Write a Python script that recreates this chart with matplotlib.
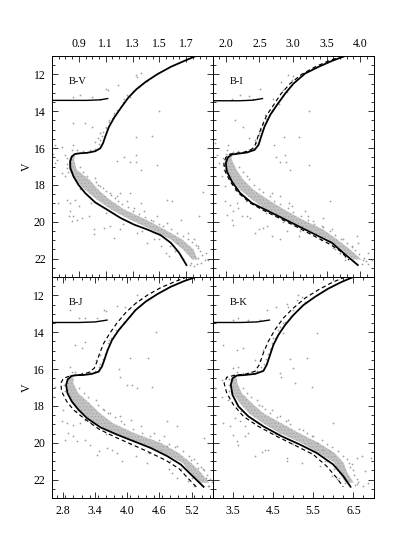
"""Colour-magnitude diagrams in four colours with two isochrones each."""
import numpy as np
import matplotlib.pyplot as plt
from matplotlib.ticker import FixedLocator, MultipleLocator

plt.rcParams['font.family'] = ['Liberation Serif', 'DejaVu Serif']
plt.rcParams['font.size'] = 8.5
plt.rcParams['hatch.linewidth'] = 0.5

# Isochrone, B-V
bv_color = [1.772, 1.685, 1.585, 1.485, 1.397, 1.33, 1.27, 1.215, 1.165, 1.125,
            1.097, 1.08, 1.06, 1.022, 0.96, 0.91, 0.872, 0.847, 0.835, 0.837,
            0.86, 0.897, 0.947, 1.022, 1.11, 1.21, 1.31, 1.41, 1.51, 1.585,
            1.647, 1.702]
bv_mag = [11.0, 11.27, 11.59, 11.99, 12.41, 12.8, 13.25, 13.8, 14.33, 14.84,
          15.38, 15.74, 16.01, 16.17, 16.26, 16.28, 16.32, 16.46, 16.73, 17.09,
          17.54, 17.99, 18.44, 18.95, 19.34, 19.79, 20.15, 20.42, 20.73, 21.14,
          21.68, 22.35]
bv_hb_color = [0.7, 0.96, 1.06, 1.115]
bv_hb_mag = [13.41, 13.41, 13.38, 13.31]

# Isochrones, B-I
bi_color = [3.777, 3.578, 3.38, 3.18, 3.007, 2.883, 2.759, 2.66, 2.575, 2.525,
            2.486, 2.426, 2.312, 2.187, 2.088, 2.029, 1.999, 2.014, 2.088, 2.212,
            2.386, 2.585, 2.784, 3.03, 3.28, 3.578, 3.777, 3.966]
bi_mag = [11.0, 11.27, 11.59, 11.95, 12.5, 13.04, 13.67, 14.2, 14.84, 15.38,
          15.83, 16.1, 16.24, 16.3, 16.35, 16.51, 16.82, 17.27, 17.81, 18.44,
          18.98, 19.34, 19.7, 20.15, 20.6, 21.14, 21.77, 22.35]
bi_dash_color = [3.737, 3.529, 3.33, 3.131, 2.957, 2.823, 2.709, 2.61, 2.535, 2.476,
                 2.436, 2.386, 2.287, 2.163, 2.063, 1.999, 1.969, 1.989, 2.063, 2.187,
                 2.361, 2.56, 2.759, 3.007, 3.255, 3.553, 3.703, 3.837]
bi_dash_mag = [11.0, 11.27, 11.59, 11.99, 12.5, 13.04, 13.67, 14.2, 14.84, 15.38,
               15.83, 16.06, 16.21, 16.28, 16.32, 16.5, 16.82, 17.27, 17.81, 18.44,
               18.98, 19.38, 19.74, 20.19, 20.66, 21.23, 21.59, 22.08]
bi_hb_color = [1.8, 2.2, 2.4, 2.545]
bi_hb_mag = [13.43, 13.43, 13.4, 13.31]

# Isochrones, B-J
bj_color = [5.281, 5.063, 4.813, 4.563, 4.344, 4.156, 4.0, 3.844, 3.719, 3.638,
            3.575, 3.531, 3.469, 3.344, 3.188, 3.063, 2.969, 2.894, 2.863, 2.888,
            2.969, 3.094, 3.25, 3.5, 3.813, 4.125, 4.438, 4.75, 5.0, 5.219, 5.425]
bj_mag = [11.0, 11.22, 11.53, 11.93, 12.34, 12.8, 13.34, 13.88, 14.42, 14.96,
          15.5, 15.86, 16.14, 16.26, 16.32, 16.33, 16.37, 16.55, 16.86, 17.31,
          17.76, 18.21, 18.66, 19.16, 19.56, 19.92, 20.28, 20.73, 21.18, 21.81, 22.39]
bj_dash_color = [5.113, 4.875, 4.625, 4.375, 4.156, 3.969, 3.813, 3.675, 3.563, 3.488,
                 3.438, 3.388, 3.281, 3.125, 2.938, 2.813, 2.763, 2.781, 2.875, 3.0,
                 3.188, 3.469, 3.781, 4.094, 4.406, 4.719, 4.969, 5.125, 5.294]
bj_dash_mag = [11.0, 11.27, 11.58, 11.99, 12.44, 12.95, 13.49, 14.06, 14.6, 15.14,
               15.59, 15.95, 16.19, 16.3, 16.37, 16.5, 16.77, 17.22, 17.76, 18.21,
               18.66, 19.25, 19.7, 20.1, 20.51, 20.95, 21.41, 21.9, 22.41]
bj_hb_color = [2.6, 3.1, 3.4, 3.625]
bj_hb_mag = [13.47, 13.47, 13.44, 13.34]

# Isochrones, B-K
bk_color = [6.496, 6.207, 5.876, 5.545, 5.256, 5.008, 4.802, 4.636, 4.512, 4.43,
            4.347, 4.264, 4.058, 3.81, 3.603, 3.496, 3.455, 3.496, 3.645, 3.893,
            4.264, 4.719, 5.174, 5.587, 6.0, 6.248, 6.43]
bk_mag = [11.0, 11.27, 11.63, 12.08, 12.53, 13.07, 13.61, 14.15, 14.69, 15.23,
          15.77, 16.1, 16.26, 16.32, 16.35, 16.5, 16.86, 17.4, 18.03, 18.57,
          19.11, 19.65, 20.1, 20.55, 21.18, 21.81, 22.39]
bk_dash_color = [6.289, 5.959, 5.628, 5.298, 5.008, 4.76, 4.554, 4.388, 4.264, 4.165,
                 4.058, 3.81, 3.562, 3.355, 3.289, 3.355, 3.521, 3.769, 4.14, 4.595,
                 5.05, 5.504, 5.835, 6.083, 6.248]
bk_dash_mag = [11.0, 11.31, 11.7, 12.15, 12.69, 13.23, 13.86, 14.49, 15.12, 15.75,
               16.12, 16.28, 16.33, 16.44, 16.77, 17.31, 17.94, 18.57, 19.11, 19.65,
               20.14, 20.64, 21.27, 21.9, 22.39]
bk_hb_color = [3.0, 3.7, 4.1, 4.413]
bk_hb_mag = [13.47, 13.47, 13.44, 13.34]

# Dense main sequence, edges read per magnitude
bv_band_mag = [16.4, 16.64, 17.18, 17.72, 18.26, 18.8, 19.34, 19.88, 20.42, 20.96, 21.5, 22.05]
bv_band_lo = [0.85, 0.828, 0.828, 0.873, 0.945, 1.035, 1.14, 1.28, 1.44, 1.585, 1.675, 1.745]
bv_band_hi = [0.87, 0.865, 0.885, 0.98, 1.045, 1.13, 1.24, 1.4, 1.54, 1.67, 1.755, 1.785]
bi_band_mag = [16.4, 16.64, 17.18, 17.72, 18.26, 18.8, 19.34, 19.88, 20.42, 20.96, 21.5, 22.05]
bi_band_lo = [2.02, 1.975, 1.995, 2.08, 2.21, 2.39, 2.6, 2.87, 3.21, 3.52, 3.72, 3.9]
bi_band_hi = [2.08, 2.09, 2.16, 2.26, 2.41, 2.63, 2.87, 3.14, 3.45, 3.66, 3.85, 4.02]
bj_band_mag = [16.45, 16.77, 17.31, 17.85, 18.39, 18.93, 19.47, 20.01, 20.55, 21.09, 21.63, 22.17]
bj_band_lo = [2.92, 2.87, 2.9, 2.99, 3.16, 3.39, 3.77, 4.24, 4.67, 5.03, 5.18, 5.34]
bj_band_hi = [3.0, 3.0, 3.09, 3.3, 3.49, 3.73, 4.13, 4.63, 4.96, 5.19, 5.38, 5.53]
bk_band_mag = [16.45, 16.77, 17.31, 17.85, 18.39, 18.93, 19.47, 20.01, 20.55, 21.09, 21.63, 22.17]
bk_band_lo = [3.5, 3.465, 3.5, 3.68, 3.9, 4.24, 4.66, 5.2, 5.64, 6.03, 6.15, 6.31]
bk_band_hi = [3.6, 3.62, 3.73, 3.98, 4.26, 4.7, 5.15, 5.64, 6.03, 6.26, 6.35, 6.51]

# Field stars, (colour, V)
bv_stars = [(1.365, 11.95), (1.323, 12.01), (1.335, 12.14), (1.41, 12.37), (1.373, 12.5),
            (1.348, 12.68), (1.193, 12.59), (1.26, 13.13), (1.235, 13.36), (1.10, 12.77),
            (1.115, 12.82), (0.91, 13.13), (0.86, 13.22), (0.998, 13.22), (1.06, 13.31),
            (1.5, 13.99), (1.16, 14.12), (1.185, 13.94), (1.148, 14.39), (1.123, 14.48),
            (1.105, 14.84), (1.06, 15.2), (1.04, 15.47), (1.023, 15.65), (0.998, 14.84),
            (0.948, 14.66), (0.86, 14.62), (1.323, 15.41), (1.448, 15.34), (1.485, 16.91),
            (1.323, 16.37), (1.24, 16.51), (1.185, 16.69), (1.278, 16.77), (1.323, 16.78),
            (1.36, 17.18), (0.86, 15.83), (0.848, 16.1), (0.773, 15.92), (0.723, 15.83),
            (0.71, 16.32), (0.735, 16.64), (0.773, 17.36), (0.798, 17.54), (0.723, 16.82),
            (0.748, 18.98), (0.81, 18.84), (0.835, 18.98), (0.873, 18.8), (0.898, 19.16),
            (0.835, 19.43), (0.86, 19.7), (0.848, 19.97), (0.885, 19.88), (0.923, 19.79),
            (0.823, 19.7), (0.973, 19.7), (1.01, 20.42), (1.015, 20.64), (1.085, 20.33),
            (1.13, 20.24), (1.21, 20.42), (1.16, 20.87), (1.335, 20.6), (1.56, 18.8),
            (1.598, 18.89), (1.823, 18.41), (1.798, 19.7), (1.66, 19.88), (1.56, 20.06),
            (1.485, 19.7), (1.435, 19.88), (1.385, 19.43), (1.31, 19.25), (1.26, 18.89),
            (1.185, 18.62), (1.135, 18.44), (1.06, 18.08), (1.21, 18.44), (1.285, 18.44),
            (1.36, 18.98), (1.51, 21.32), (1.548, 21.68), (1.573, 21.86), (1.46, 20.96),
            (1.41, 21.14), (1.71, 20.6), (1.76, 20.96), (1.785, 21.32), (1.848, 21.68),
            (1.86, 22.05), (1.81, 22.23), (1.76, 22.41), (1.735, 22.23), (1.635, 21.14)]
bv_fringe = [(0.91, 17.0), (0.93, 17.3), (0.96, 17.5), (1.02, 17.6), (1.03, 17.85), (1.04, 18.0),
             (1.08, 18.15), (1.1, 18.35), (1.14, 18.55), (1.17, 18.7), (1.19, 18.9), (1.22, 19.05),
             (1.27, 19.2), (1.3, 19.4), (1.35, 19.6), (1.39, 19.75), (1.45, 19.95), (1.5, 20.1),
             (1.53, 20.25), (1.59, 20.4), (1.63, 20.6), (1.68, 20.75), (1.71, 20.95), (1.74, 21.1),
             (1.77, 21.25), (1.79, 21.45), (1.8, 21.6), (1.82, 21.8), (1.79, 21.95), (1.84, 22.1),
             (1.78, 22.3), (1.73, 22.35), (0.91, 18.2), (0.96, 18.55), (0.99, 19.0), (1.1, 19.5),
             (1.23, 20.1), (1.37, 20.5), (1.5, 20.95), (1.58, 21.3), (1.62, 21.6), (1.68, 22.0),
             (1.165, 14.2), (1.125, 14.6), (1.1, 14.9), (1.08, 15.1), (1.07, 15.35), (1.06, 15.55),
             (1.05, 15.8), (1.02, 16.05), (0.98, 16.1), (0.93, 16.15), (0.89, 16.1), (0.8, 16.4),
             (0.81, 16.55), (0.81, 16.85), (0.81, 17.1), (0.82, 17.3), (1.3, 12.9), (1.28, 13.2),
             (1.23, 13.5)]
bi_stars = [(2.923, 12.05), (3.007, 12.08), (2.823, 12.41), (2.982, 12.32), (2.858, 12.86),
            (2.908, 12.95), (2.51, 12.77), (2.337, 13.18), (2.212, 13.13), (2.088, 13.31),
            (2.411, 13.31), (2.709, 13.31), (3.24, 13.99), (2.684, 13.94), (2.585, 14.2),
            (2.138, 14.48), (2.262, 14.84), (2.51, 14.93), (2.486, 15.29), (2.436, 15.56),
            (2.337, 15.47), (3.09, 15.38), (2.863, 15.41), (3.24, 16.91), (2.883, 16.37),
            (2.724, 15.83), (2.744, 16.46), (2.808, 16.77), (2.898, 16.77), (2.957, 17.18),
            (2.038, 15.83), (2.014, 16.1), (1.84, 15.74), (1.865, 16.37), (1.9, 16.82),
            (1.94, 17.54), (1.989, 18.08), (1.979, 18.89), (2.063, 19.07), (2.163, 18.98),
            (2.113, 19.43), (2.187, 19.25), (2.014, 19.61), (2.088, 19.88), (2.113, 20.15),
            (2.237, 19.7), (2.312, 19.7), (2.361, 19.79), (2.436, 20.6), (2.61, 20.24),
            (2.56, 20.33), (2.486, 20.42), (2.808, 20.96), (2.684, 20.78), (2.908, 20.51),
            (3.082, 20.78), (3.454, 19.79), (3.554, 18.89), (3.305, 19.97), (3.131, 20.24),
            (2.933, 18.98), (2.684, 18.44), (2.808, 18.62), (2.982, 19.16), (3.181, 19.43),
            (3.429, 20.24), (3.578, 20.42), (3.752, 20.96), (3.951, 20.78), (3.877, 21.32),
            (3.628, 21.5), (3.703, 21.68), (3.777, 22.05), (4.125, 21.68), (4.05, 22.05),
            (4.175, 22.05), (4.125, 22.32), (3.976, 21.14), (3.23, 19.7)]
bi_fringe = [(2.2, 17.0), (2.25, 17.3), (2.32, 17.5), (2.35, 17.7), (2.42, 18.0), (2.5, 18.2),
             (2.55, 18.4), (2.65, 18.6), (2.72, 18.85), (2.8, 19.05), (2.93, 19.25), (3.0, 19.45),
             (3.12, 19.7), (3.22, 19.9), (3.32, 20.1), (3.45, 20.3), (3.55, 20.5), (3.62, 20.7),
             (3.72, 20.95), (3.8, 21.15), (3.88, 21.35), (3.93, 21.55), (3.98, 21.75), (4.06, 21.95),
             (4.09, 22.15), (4.03, 22.3), (2.13, 18.3), (2.3, 18.9), (2.6, 19.5), (2.85, 20.0),
             (3.1, 20.5), (3.42, 21.0), (3.6, 21.4), (3.78, 21.9), (2.79, 13.6), (2.69, 14.0),
             (2.6, 14.4), (2.56, 14.7), (2.52, 15.0), (2.5, 15.2), (2.47, 15.5), (2.45, 15.7),
             (2.4, 16.0), (2.35, 16.1), (2.28, 16.15), (2.18, 16.15), (2.1, 16.2), (2.0, 16.3),
             (1.95, 16.55), (1.96, 16.9), (1.97, 17.2), (2.92, 12.8), (2.85, 13.1)]
bj_stars = [(4.188, 11.99), (4.25, 12.17), (4.156, 12.35), (3.969, 12.62), (3.813, 12.59),
            (3.563, 12.77), (3.613, 12.84), (3.094, 13.25), (2.938, 12.8), (3.219, 13.25),
            (3.438, 13.25), (4.531, 14.01), (3.938, 13.43), (3.875, 13.79), (3.75, 14.15),
            (3.656, 14.42), (3.219, 14.51), (3.156, 14.87), (3.031, 14.69), (3.5, 15.23),
            (3.419, 15.5), (4.388, 15.41), (4.05, 15.41), (4.456, 16.95), (4.188, 17.04),
            (3.875, 16.41), (3.844, 16.01), (4.0, 16.86), (4.094, 16.86), (2.938, 15.86),
            (2.969, 16.14), (2.656, 16.95), (2.625, 17.49), (2.813, 18.21), (2.781, 18.84),
            (2.875, 18.93), (3.0, 19.02), (3.125, 18.93), (3.219, 18.75), (2.906, 19.47),
            (2.844, 19.83), (3.0, 19.65), (3.063, 19.92), (3.219, 19.83), (3.313, 20.1),
            (3.469, 20.46), (3.438, 20.64), (3.625, 20.28), (3.719, 20.37), (3.906, 21.0),
            (3.813, 20.55), (4.156, 20.73), (4.375, 21.09), (4.75, 18.84), (4.938, 19.11),
            (5.425, 19.74), (4.688, 19.65), (4.5, 19.47), (4.25, 19.11), (4.063, 18.75),
            (3.875, 18.57), (3.688, 18.39), (3.563, 18.21), (4.75, 20.19), (4.625, 20.37),
            (4.938, 20.19), (5.188, 20.91), (4.781, 21.45), (4.844, 21.63), (4.938, 21.9),
            (5.125, 22.08), (5.25, 22.35), (5.469, 21.9), (5.531, 22.35), (5.406, 21.45),
            (5.313, 21.36)]
bj_fringe = [(3.1, 17.0), (3.2, 17.3), (3.28, 17.5), (3.42, 17.7), (3.46, 17.95), (3.55, 18.15),
             (3.65, 18.4), (3.78, 18.6), (3.88, 18.8), (3.95, 19.0), (4.1, 19.25), (4.28, 19.45),
             (4.42, 19.65), (4.6, 19.85), (4.78, 20.05), (4.9, 20.25), (5.05, 20.45), (5.15, 20.7),
             (5.25, 20.9), (5.3, 21.1), (5.37, 21.3), (5.43, 21.5), (5.48, 21.75), (5.54, 21.95),
             (5.58, 22.15), (5.5, 22.35), (3.05, 18.3), (3.3, 18.9), (3.6, 19.5), (4.05, 20.05),
             (4.4, 20.55), (4.8, 21.0), (5.0, 21.4), (5.2, 21.9), (3.95, 13.5), (3.8, 13.9),
             (3.7, 14.3), (3.65, 14.6), (3.62, 14.9), (3.58, 15.2), (3.55, 15.45), (3.5, 15.7),
             (3.47, 15.9), (3.4, 16.1), (3.3, 16.15), (3.15, 16.2), (3.02, 16.15), (2.93, 16.3),
             (2.88, 16.55), (2.83, 16.85), (2.84, 17.2), (4.12, 12.8), (4.06, 13.1)]
bk_stars = [(5.132, 11.99), (5.215, 12.08), (5.091, 12.26), (5.298, 12.35), (4.843, 12.44),
            (4.868, 12.62), (4.57, 12.62), (4.347, 12.8), (3.645, 13.25), (3.521, 13.31),
            (3.893, 13.34), (4.182, 13.31), (5.587, 14.03), (4.802, 13.43), (4.678, 13.7),
            (4.76, 14.06), (4.554, 14.33), (3.769, 14.87), (3.603, 14.96), (3.273, 14.69),
            (4.264, 14.96), (4.182, 15.5), (4.058, 15.5), (4.926, 15.47), (5.339, 15.41),
            (5.463, 16.95), (5.008, 15.95), (5.05, 16.77), (4.678, 16.23), (4.702, 16.44),
            (3.066, 17.04), (3.231, 17.49), (3.397, 17.67), (3.645, 15.86), (3.521, 15.95),
            (3.231, 16.59), (3.273, 18.93), (3.438, 19.11), (3.562, 18.66), (3.686, 18.84),
            (3.81, 19.11), (3.521, 19.56), (3.603, 19.92), (3.645, 20.1), (3.81, 19.65),
            (3.893, 19.47), (4.058, 20.71), (4.306, 20.37), (4.223, 20.51), (4.388, 20.37),
            (4.843, 20.82), (4.843, 21.0), (5.215, 21.09), (6.0, 18.93), (5.587, 20.01),
            (5.752, 20.37), (5.917, 20.46), (5.463, 19.65), (5.256, 19.29), (4.884, 18.75),
            (4.678, 18.57), (4.471, 18.21), (4.223, 18.03), (5.669, 21.27), (5.793, 21.0),
            (5.959, 21.81), (6.083, 21.99), (6.702, 20.73), (6.579, 20.82), (6.785, 21.54),
            (6.455, 21.18), (6.868, 22.17), (6.744, 22.35), (6.579, 22.26), (6.289, 22.17),
            (6.95, 20.82)]
bk_fringe = [(3.75, 17.0), (3.85, 17.3), (3.95, 17.5), (4.1, 17.7), (4.15, 17.95), (4.3, 18.15),
             (4.42, 18.4), (4.6, 18.6), (4.82, 18.8), (4.92, 19.0), (5.15, 19.25), (5.35, 19.45),
             (5.5, 19.65), (5.72, 19.85), (5.85, 20.05), (5.98, 20.25), (6.12, 20.45), (6.25, 20.7),
             (6.35, 20.9), (6.38, 21.1), (6.42, 21.3), (6.48, 21.5), (6.52, 21.75), (6.6, 21.95),
             (6.62, 22.15), (6.55, 22.3), (3.72, 18.3), (4.1, 18.9), (4.55, 19.5), (5.0, 20.05),
             (5.45, 20.55), (5.85, 21.0), (6.03, 21.4), (6.15, 21.9), (4.74, 13.5), (4.62, 13.9),
             (4.5, 14.3), (4.47, 14.6), (4.42, 14.9), (4.37, 15.2), (4.33, 15.45), (4.28, 15.7),
             (4.2, 15.9), (4.1, 16.1), (3.95, 16.15), (3.75, 16.2), (3.62, 16.15), (3.52, 16.3),
             (3.42, 16.55), (3.4, 16.85), (3.42, 17.2), (5.0, 12.8), (4.95, 13.1)]

bv_ticks = [0.9, 1.1, 1.3, 1.5, 1.7]
bi_ticks = [2.0, 2.5, 3.0, 3.5, 4.0]
bj_ticks = [2.8, 3.4, 4.0, 4.6, 5.2]
bk_ticks = [3.5, 4.5, 5.5, 6.5]
mag_ticks = [12, 14, 16, 18, 20, 22]


def draw_panel(ax, label, xlim, ticks, minor, stars, band, iso, hb, dash=None):
    ax.set_xlim(*xlim)
    ax.set_ylim(23, 11)

    # Dense part of the sequence, stippled
    ax.fill_betweenx(band[0], band[1], band[2], facecolor='#c2c2c2', edgecolor='#a6a6a6',
                     hatch='.....', lw=0, zorder=1)
    xs, ys = zip(*stars)
    ax.scatter(xs, ys, s=1.6, color='#a0a0a0', lw=0, zorder=2)

    if dash is not None:
        ax.plot(dash[0], dash[1], color='k', lw=0.85, ls=(0, (3.5, 2.5)), zorder=3)
    ax.plot(iso[0], iso[1], color='k', lw=1.3, zorder=4)
    ax.plot(hb[0], hb[1], color='k', lw=1.0, zorder=4)

    ax.xaxis.set_major_locator(FixedLocator(ticks))
    ax.xaxis.set_minor_locator(MultipleLocator(minor))
    ax.set_yticks(mag_ticks)
    ax.yaxis.set_minor_locator(MultipleLocator(0.5))
    ax.tick_params(which='both', direction='in', top=True, right=True, width=0.55)
    ax.tick_params(which='major', length=4.5, pad=5)
    ax.tick_params(which='minor', length=2.2)
    ax.text(0.105, 0.886, label, transform=ax.transAxes, va='center', fontsize=7.5)
    for spine in ax.spines.values():
        spine.set_linewidth(0.7)


fig = plt.figure(figsize=(4.15, 5.54), dpi=100)
w, h = 161.0 / 415, 221.0 / 554
x0, x1 = 52.0 / 415, 212.5 / 415
y0, y1 = 1 - 498.0 / 554, 1 - 277.0 / 554

ax_bv = fig.add_axes([x0, y1, w, h])
ax_bi = fig.add_axes([x1, y1, w, h])
ax_bj = fig.add_axes([x0, y0, w, h])
ax_bk = fig.add_axes([x1, y0, w, h])

draw_panel(ax_bv, 'B-V', (0.7, 1.9), bv_ticks, 0.05, bv_stars + bv_fringe,
           (bv_band_mag, bv_band_lo, bv_band_hi), (bv_color, bv_mag), (bv_hb_color, bv_hb_mag))
draw_panel(ax_bi, 'B-I', (1.8, 4.2), bi_ticks, 0.1, bi_stars + bi_fringe,
           (bi_band_mag, bi_band_lo, bi_band_hi), (bi_color, bi_mag), (bi_hb_color, bi_hb_mag),
           dash=(bi_dash_color, bi_dash_mag))
draw_panel(ax_bj, 'B-J', (2.6, 5.6), bj_ticks, 0.15, bj_stars + bj_fringe,
           (bj_band_mag, bj_band_lo, bj_band_hi), (bj_color, bj_mag), (bj_hb_color, bj_hb_mag),
           dash=(bj_dash_color, bj_dash_mag))
draw_panel(ax_bk, 'B-K', (3.0, 7.0), bk_ticks, 0.25, bk_stars + bk_fringe,
           (bk_band_mag, bk_band_lo, bk_band_hi), (bk_color, bk_mag), (bk_hb_color, bk_hb_mag),
           dash=(bk_dash_color, bk_dash_mag))

for ax in (ax_bv, ax_bi):
    ax.tick_params(labeltop=True, labelbottom=False, pad=4.5)
for ax in (ax_bi, ax_bk):
    ax.tick_params(labelleft=False)
for ax in (ax_bv, ax_bj):
    ax.set_ylabel('V')
    ax.yaxis.set_label_coords(-0.12, 0.5)

fig.savefig('out.png', dpi=100)
